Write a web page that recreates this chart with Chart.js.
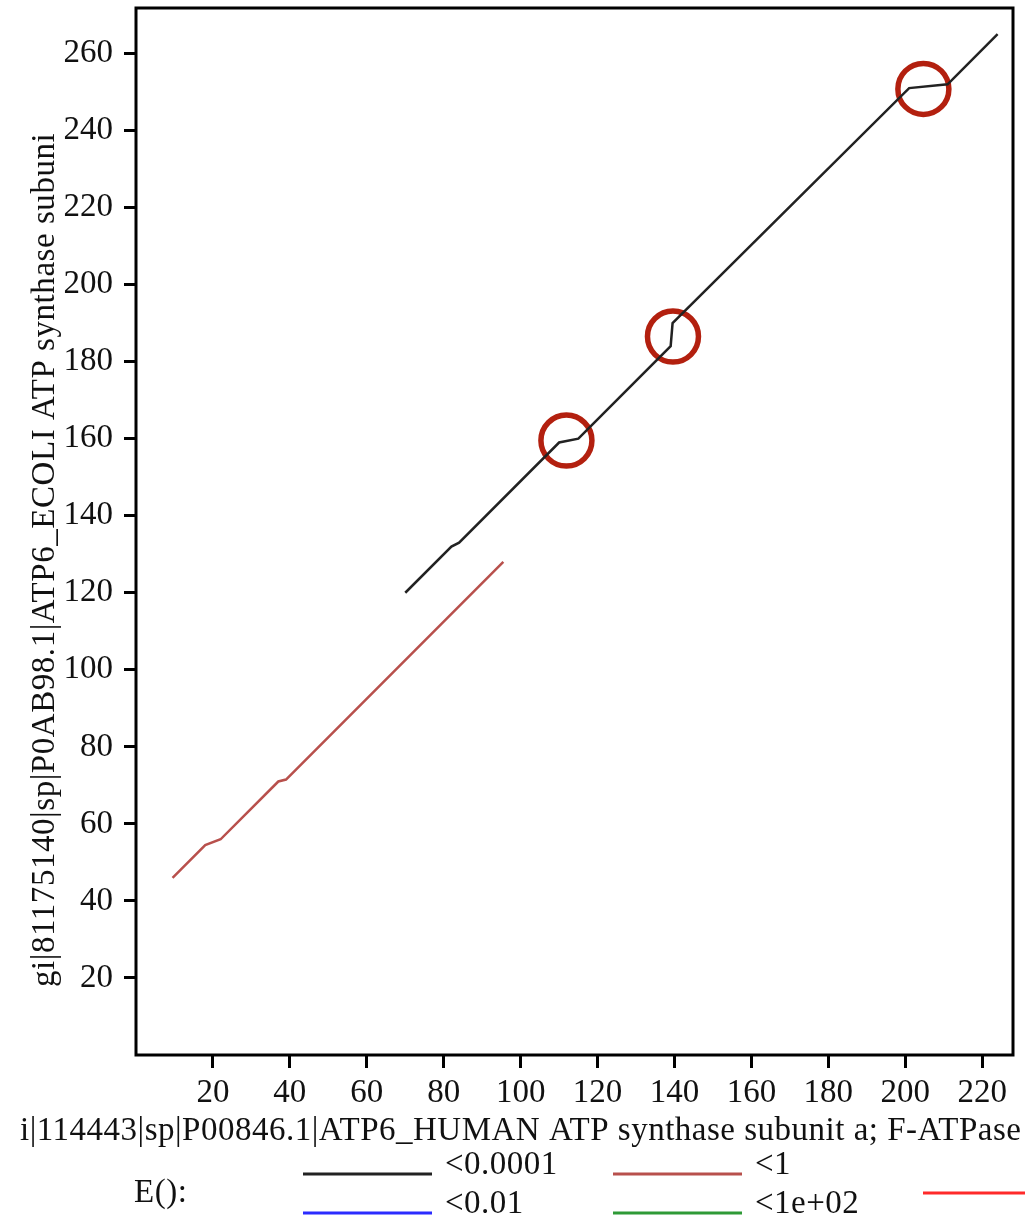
<!DOCTYPE html>
<html>
<head>
<meta charset="utf-8">
<script src="https://cdn.jsdelivr.net/npm/chart.js@4.4.1/dist/chart.umd.min.js"></script>
<style>
html, body { margin: 0; padding: 0; background: #fff; }
</style>
</head>
<body>
<canvas id="dotPlot" width="1025" height="1230"></canvas>
<script>
// Dot plot: ATP6 human vs ATP6 E. coli
const xTitle = 'gi|114443|sp|P00846.1|ATP6_HUMAN ATP synthase subunit a; F-ATPase protein 6';
const yTitle = 'gi|81175140|sp|P0AB98.1|ATP6_ECOLI ATP synthase subuni';

const xTicks = [20, 40, 60, 80, 100, 120, 140, 160, 180, 200, 220];
const yTicks = [20, 40, 60, 80, 100, 120, 140, 160, 180, 200, 220, 240, 260];

// E() < 0.0001 segment
const blackX = [70, 82, 84, 110, 115, 139, 139.5, 201, 211, 224];
const blackY = [120, 132, 133, 159, 160, 184, 190, 251, 252, 265];
// E() < 1 segment
const brownX = [9.5, 18, 22, 37, 39, 95.5];
const brownY = [46, 54.5, 56, 71, 71.5, 128];
// hand drawn circles (annotations)
const circleX = [111.9, 139.6, 204.7];
const circleY = [159.5, 186.5, 250.8];

const legendLabels = ['<0.0001', '<0.01', '<1', '<1e+02', '>=1e+02'];
const legendColors = ['#222222', '#2b2bff', '#b8504c', '#2e9a36', '#ff2a2a'];

const toPoints = (xs, ys) => xs.map((x, i) => ({ x: x, y: ys[i] }));

const serif = '"Liberation Serif", "Times New Roman", serif';

const frameAndText = {
    id: 'frameAndText',
    afterDraw(chart) {
        const ctx = chart.ctx;
        const a = chart.chartArea;
        ctx.save();
        // box round the plot
        ctx.strokeStyle = '#000';
        ctx.lineWidth = 3;
        ctx.strokeRect(a.left, a.top, a.right - a.left, a.bottom - a.top);

        ctx.fillStyle = '#111';
        ctx.font = '33px ' + serif;

        // x title (cut off at both edges, like the cropped original)
        ctx.save();
        ctx.beginPath();
        ctx.rect(19, a.bottom + 40, chart.width, 60);
        ctx.clip();
        ctx.letterSpacing = '0.5px';
        ctx.textAlign = 'left';
        ctx.textBaseline = 'alphabetic';
        const gW = ctx.measureText('g').width;
        ctx.fillText(xTitle, 20 - gW, a.bottom + 85);
        ctx.restore();

        // y title, bottom to top
        ctx.letterSpacing = '0.55px';
        ctx.save();
        ctx.translate(a.left - 82, a.bottom - 68);
        ctx.rotate(-Math.PI / 2);
        ctx.fillText(yTitle, 0, 0);
        ctx.restore();

        // legend
        ctx.letterSpacing = '0.5px';
        ctx.textBaseline = 'middle';
        ctx.fillText('E():', a.left - 2, a.bottom + 138);
        const cols = [a.left + 167, a.left + 477, a.left + 787];
        const rows = [a.bottom + 119, a.bottom + 158, a.bottom + 138];
        legendLabels.forEach((lab, i) => {
            const c = i < 4 ? Math.floor(i / 2) : 2;
            const r = i < 4 ? i % 2 : 2;
            const x0 = cols[c], y0 = rows[r];
            ctx.strokeStyle = legendColors[i];
            ctx.lineWidth = 3;
            ctx.beginPath();
            ctx.moveTo(x0, y0);
            ctx.lineTo(x0 + 129, y0);
            ctx.stroke();
            ctx.fillText(lab, x0 + 142, y0 - 9);
        });
        ctx.restore();
    }
};

const ctxDot = document.getElementById('dotPlot').getContext('2d');

const dotChart = new Chart(ctxDot, {
    type: 'line',
    data: {
        datasets: [
            {
                label: legendLabels[0],
                data: toPoints(blackX, blackY),
                borderColor: legendColors[0],
                borderWidth: 2.5,
                pointRadius: 0,
                tension: 0
            },
            {
                label: legendLabels[2],
                data: toPoints(brownX, brownY),
                borderColor: legendColors[2],
                borderWidth: 2.5,
                pointRadius: 0,
                tension: 0
            },
            {
                label: 'circles',
                data: toPoints(circleX, circleY),
                showLine: false,
                pointRadius: 25.5,
                pointBorderWidth: 5.5,
                pointBorderColor: '#b3200f',
                pointBackgroundColor: 'rgba(0,0,0,0)'
            }
        ]
    },
    options: {
        responsive: false,
        animation: false,
        layout: { autoPadding: false, padding: { top: 8, right: 12, left: 0, bottom: 0 } },
        plugins: {
            legend: { display: false },
            tooltip: { enabled: false }
        },
        scales: {
            x: {
                type: 'linear',
                min: 0,
                max: 228,
                afterBuildTicks: s => { s.ticks = xTicks.map(v => ({ value: v })); },
                afterFit: s => { s.height = 175; s.paddingLeft = 0; s.paddingRight = 0; },
                grid: { display: true, drawOnChartArea: false, drawTicks: true, tickLength: 13, color: '#000', lineWidth: 3 },
                border: { display: false },
                ticks: { color: '#111', padding: 6, maxRotation: 0, autoSkip: false, font: { family: serif, size: 33 } }
            },
            y: {
                type: 'linear',
                min: 0,
                max: 271.8,
                afterBuildTicks: s => { s.ticks = yTicks.map(v => ({ value: v })); },
                afterFit: s => { s.width = 136; s.paddingTop = 0; s.paddingBottom = 0; },
                grid: { display: true, drawOnChartArea: false, drawTicks: true, tickLength: 12, color: '#000', lineWidth: 3 },
                border: { display: false },
                ticks: { color: '#111', padding: 11, autoSkip: false, font: { family: serif, size: 33 } }
            }
        }
    },
    plugins: [frameAndText]
});
</script>
</body>
</html>
